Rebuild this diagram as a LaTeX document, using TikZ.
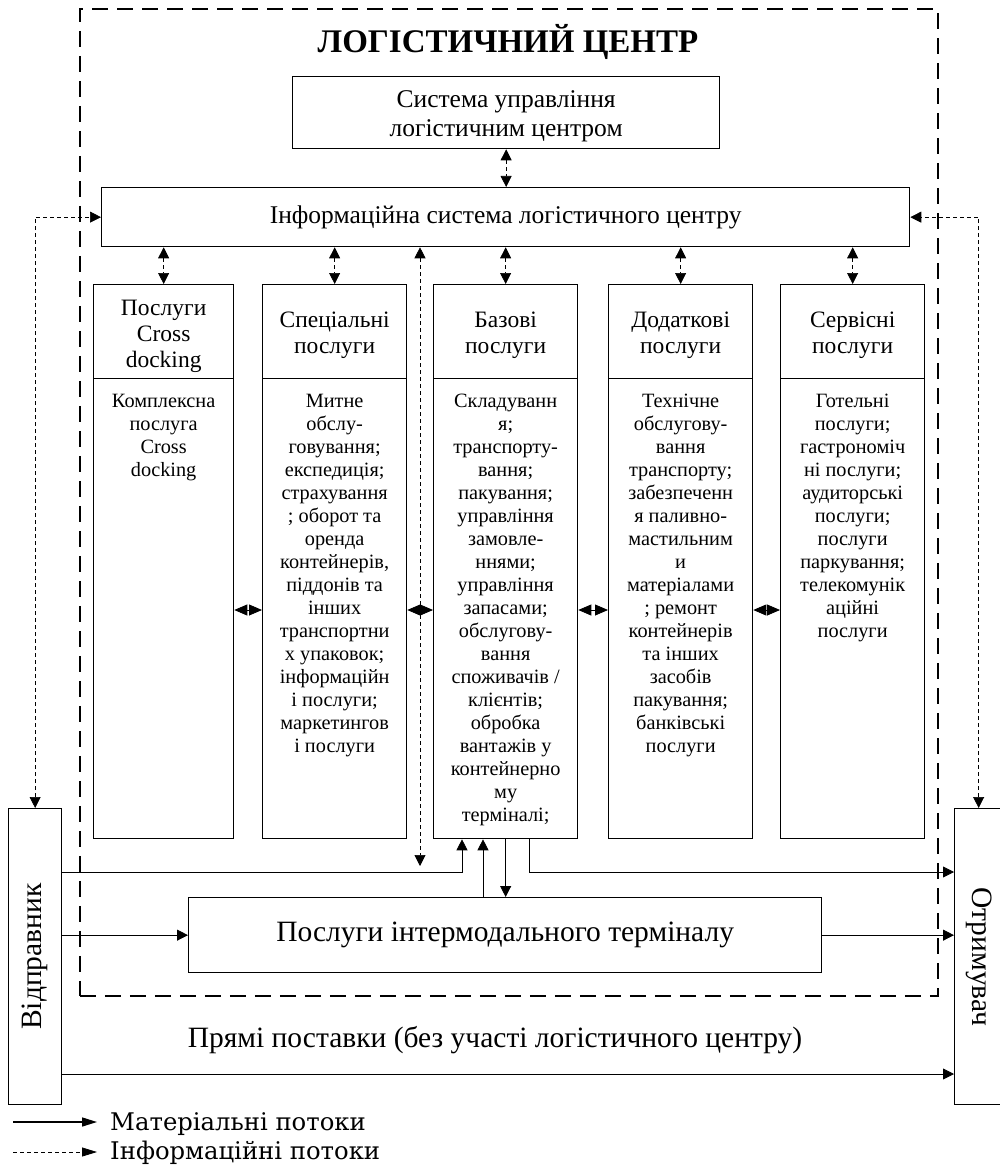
\documentclass[tikz,border=0pt]{standalone}
\usepackage{fontspec}
\usepackage{graphicx}
\setmainfont{Liberation Serif}
\newfontfamily\legendfont{DejaVu Serif}
\usetikzlibrary{arrows.meta}
\newcommand\ftitle{\bfseries\fontsize{33}{38}\selectfont}
\newcommand\ftop{\fontsize{25.5}{29}\selectfont}
\newcommand\fhead{\fontsize{23.5}{26}\selectfont}
\newcommand\fbody{\fontsize{20.3}{23}\selectfont}
\newcommand\fbig{\fontsize{29.5}{34}\selectfont}
\newcommand\flegend{\legendfont\fontsize{24.3}{28}\selectfont}
\begin{document}
\begin{tikzpicture}[x=1pt,y=-1pt,
  box/.style={draw, line width=1.3pt, inner sep=0pt, align=center},
  frame/.style={draw, line width=1.6pt, dash pattern=on 16pt off 9pt, inner sep=0pt},
  colhead/.style={box, minimum height=94pt, anchor=north west},
  headtext/.style={inner sep=0pt, align=center, font=\fhead},
  colbody/.style={box, minimum height=460pt, anchor=north west},
  coltext/.style={inner sep=0pt, align=center, anchor=north, font=\fbody},
  mat/.style={line width=0.8pt, -{Triangle[length=11pt,width=11pt]}},
  matboth/.style={line width=0.8pt, {Triangle[length=13pt,width=11pt]}-{Triangle[length=13pt,width=11pt]}},
  infoboth/.style={line width=0.7pt, dash pattern=on 4pt off 3pt,
    {Triangle[length=11pt,width=11pt]}-{Triangle[length=11pt,width=11pt]}},
  legmat/.style={line width=1.5pt, -{Triangle[length=15pt,width=9pt]}},
  leginfo/.style={line width=0.8pt, dash pattern=on 4pt off 3pt, -{Triangle[length=15pt,width=9pt]}}]
\useasboundingbox (0,0) rectangle (999,1169);

% logistics centre frame and title
\node[frame, minimum width=858pt, minimum height=987pt, anchor=north west] (lc) at (79,8) {};
\node[font=\ftitle, inner sep=0pt] (title) at (508,42) {ЛОГІСТИЧНИЙ ЦЕНТР};

% management and information systems
\node[box, minimum width=427pt, minimum height=72pt, anchor=north west] (ctrl) at (292,76) {};
\node[inner sep=0pt, align=center, font=\ftop] (ctrltext) at ([yshift=-4pt]ctrl.center)
  {Система управління\\логістичним центром};
\node[box, minimum width=808pt, minimum height=59pt, anchor=north west, font=\ftop] (info) at (101,187)
  {Інформаційна система логістичного центру};

% service columns: headers
\node[colhead, minimum width=140pt] (h1) at (93,284) {};
\node[colhead, minimum width=144pt] (h2) at (262,284) {};
\node[colhead, minimum width=144pt] (h3) at (433,284) {};
\node[colhead, minimum width=144pt] (h4) at (608,284) {};
\node[colhead, minimum width=144pt] (h5) at (780,284) {};
\node[headtext] (ht1) at ([yshift=-5pt]h1.center) {Послуги\\Cross\\docking};
\node[headtext] (ht2) at ([yshift=-4pt]h2.center) {Спеціальні\\послуги};
\node[headtext] (ht3) at ([yshift=-4pt]h3.center) {Базові\\послуги};
\node[headtext] (ht4) at ([yshift=-4pt]h4.center) {Додаткові\\послуги};
\node[headtext] (ht5) at ([yshift=-4pt]h5.center) {Сервісні\\послуги};

% service columns: bodies
\node[colbody, minimum width=140pt] (b1) at (93,378) {};
\node[colbody, minimum width=144pt] (b2) at (262,378) {};
\node[colbody, minimum width=144pt] (b3) at (433,378) {};
\node[colbody, minimum width=144pt] (b4) at (608,378) {};
\node[colbody, minimum width=144pt] (b5) at (780,378) {};

\node[coltext] (t1) at ([yshift=-16pt]b1.north) {Комплексна\\послуга\\Cross\\docking};
\node[coltext] (t2) at ([yshift=-16pt]b2.north) {Митне\\обслу-\\говування;\\експедиція;\\страхування\\; оборот та\\оренда\\контейнерів,\\піддонів та\\інших\\транспортни\\х упаковок;\\інформаційн\\і послуги;\\маркетингов\\і послуги};
\node[coltext] (t3) at ([yshift=-16pt]b3.north) {Складуванн\\я;\\транспорту-\\вання;\\пакування;\\управління\\замовле-\\ннями;\\управління\\запасами;\\обслугову-\\вання\\споживачів /\\клієнтів;\\обробка\\вантажів у\\контейнерно\\му\\терміналі;};
\node[coltext] (t4) at ([yshift=-16pt]b4.north) {Технічне\\обслугову-\\вання\\транспорту;\\забезпеченн\\я паливно-\\мастильним\\и\\матеріалами\\; ремонт\\контейнерів\\та інших\\засобів\\пакування;\\банківські\\послуги};
\node[coltext] (t5) at ([yshift=-16pt]b5.north) {Готельні\\послуги;\\гастрономіч\\ні послуги;\\аудиторські\\послуги;\\послуги\\паркування;\\телекомунік\\аційні\\послуги};

% sender, receiver, intermodal terminal
\node[box, minimum width=53pt, minimum height=296pt, anchor=north west, font=\fbig] (snd) at (8,808)
  {\rotatebox{90}{Відправник}};
\node[box, minimum width=48pt, minimum height=296pt, anchor=north west, font=\fbig] (rcv) at (954,808)
  {\rotatebox{-90}{Отримувач}};
\node[box, minimum width=633pt, minimum height=75pt, anchor=north west, font=\fbig] (term) at (188,897)
  {Послуги інтермодального терміналу};
\node[font=\fbig, inner sep=0pt] (direct) at (495,1040)
  {Прямі поставки (без участі логістичного центру)};

% helper coordinates for connector routing
\coordinate (ymid) at (0,610);
\coordinate (fy) at (0,872);
\coordinate (xa) at (462,0);
\coordinate (xb) at (483,0);
\coordinate (xc) at (529,0);
\coordinate (dd) at (420,866);
\coordinate (ly) at (0,1074);

% information flows
\draw[infoboth] (ctrl.south) -- (info.north -| ctrl.south);
\foreach \c in {1,...,5} \draw[infoboth] (info.south -| h\c.north) -- (h\c.north);
\draw[infoboth] (info.south -| dd) -- (dd);
\draw[infoboth] (snd.north) |- (info.west);
\draw[infoboth] (rcv.north) |- (info.east);

% links between columns
\foreach \a/\b in {b1/b2,b2/b3,b3/b4,b4/b5} \draw[matboth] (\a.east |- ymid) -- (\b.west |- ymid);

% material flows
\draw[mat] (snd.east |- fy) -| (b3.south -| xa);
\draw[mat] (term.north -| xb) -- (b3.south -| xb);
\draw[mat] (b3.south) -- (term.north -| b3.south);
\draw[mat] (b3.south -| xc) |- (rcv.west |- fy);
\draw[mat] (snd.east |- term.west) -- (term.west);
\draw[mat] (term.east) -- (rcv.west |- term.east);
\draw[mat] (snd.east |- ly) -- (rcv.west |- ly);

% legend
\coordinate (la1) at (13,1122);
\coordinate (la2) at (97,1122);
\coordinate (lb1) at (13,1152);
\coordinate (lb2) at (97,1152);
\draw[legmat] (la1) -- (la2);
\draw[leginfo] (lb1) -- (lb2);
\node[anchor=base west, inner sep=0pt, font=\flegend] (lm) at (110,1130) {Матеріальні потоки};
\node[anchor=base west, inner sep=0pt, font=\flegend] (li) at (110,1159) {Інформаційні потоки};
\end{tikzpicture}
\end{document}
